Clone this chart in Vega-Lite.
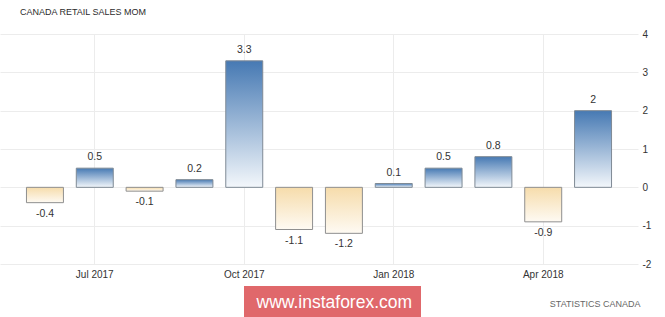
{
  "$schema": "https://vega.github.io/schema/vega-lite/v6.json",
  "width": 638,
  "height": 230,
  "autosize": {"type": "none"},
  "padding": {"left": 0, "top": 34, "right": 27, "bottom": 53},
  "background": "white",
  "title": {
    "text": "CANADA RETAIL SALES MOM",
    "anchor": "start",
    "dx": 20,
    "offset": 8,
    "baseline": "middle",
    "font": "Liberation Sans",
    "fontSize": 9,
    "fontWeight": "normal",
    "color": "#2b2b2b"
  },
  "config": {
    "view": {"stroke": null},
    "font": "Liberation Sans"
  },
  "data": {
    "values": [
      {"month": "Jun 2017", "value": -0.4, "site": "www.instaforex.com"},
      {"month": "Jul 2017", "value": 0.5, "site": "www.instaforex.com"},
      {"month": "Aug 2017", "value": -0.1, "site": "www.instaforex.com"},
      {"month": "Sep 2017", "value": 0.2, "site": "www.instaforex.com"},
      {"month": "Oct 2017", "value": 3.3, "site": "www.instaforex.com"},
      {"month": "Nov 2017", "value": -1.1, "site": "www.instaforex.com"},
      {"month": "Dec 2017", "value": -1.2, "site": "www.instaforex.com"},
      {"month": "Jan 2018", "value": 0.1, "site": "www.instaforex.com"},
      {"month": "Feb 2018", "value": 0.5, "site": "www.instaforex.com"},
      {"month": "Mar 2018", "value": 0.8, "site": "www.instaforex.com"},
      {"month": "Apr 2018", "value": -0.9, "site": "www.instaforex.com"},
      {"month": "May 2018", "value": 2, "site": "www.instaforex.com"}
    ]
  },
  "encoding": {
    "x": {
      "field": "month",
      "type": "ordinal",
      "sort": null,
      "scale": {
        "domain": ["Jun 2017", "Jul 2017", "Aug 2017", "Sep 2017", "Oct 2017", "Nov 2017", "Dec 2017", "Jan 2018", "Feb 2018", "Mar 2018", "Apr 2018", "May 2018"],
        "paddingInner": 0.258,
        "paddingOuter": 0.531
      },
      "axis": {
        "values": ["Jul 2017", "Oct 2017", "Jan 2018", "Apr 2018"],
        "labelAngle": 0,
        "labelFontSize": 10,
        "labelColor": "#333333",
        "labelPadding": 5,
        "ticks": false,
        "domain": false,
        "grid": true,
        "gridColor": "#ececec",
        "title": "STATISTICS CANADA",
        "titleFontSize": 9,
        "titleFontWeight": "normal",
        "titleColor": "#666666",
        "titleAlign": "right",
        "titleBaseline": "middle",
        "titleX": 640,
        "titleY": 39
      }
    },
    "y": {
      "field": "value",
      "type": "quantitative",
      "scale": {"domain": [-2, 4], "nice": false},
      "axis": {
        "orient": "right",
        "values": [-2, -1, 0, 1, 2, 3, 4],
        "labelExpr": "'' + datum.value",
        "ticks": false,
        "domain": false,
        "labelPadding": 4,
        "labelFontSize": 10,
        "labelColor": "#333333",
        "gridColor": "#ececec",
        "title": null
      }
    }
  },
  "layer": [
    {
      "transform": [{"filter": "datum.value >= 0"}],
      "mark": {
        "type": "bar",
        "stroke": "#7f8a95",
        "strokeWidth": 1,
        "fill": {
          "gradient": "linear",
          "x1": 0, "y1": 0, "x2": 0, "y2": 1,
          "stops": [
            {"offset": 0, "color": "#4679b3"},
            {"offset": 1, "color": "#f3f7fb"}
          ]
        }
      },
      "encoding": {}
    },
    {
      "transform": [{"filter": "datum.value < 0"}],
      "mark": {
        "type": "bar",
        "stroke": "#8f8f8f",
        "strokeWidth": 1,
        "fill": {
          "gradient": "linear",
          "x1": 0, "y1": 0, "x2": 0, "y2": 1,
          "stops": [
            {"offset": 0, "color": "#f6dcab"},
            {"offset": 1, "color": "#fefaf3"}
          ]
        }
      },
      "encoding": {}
    },
    {
      "transform": [{"filter": "datum.value >= 0"}],
      "mark": {"type": "text", "baseline": "bottom", "dy": -6, "fontSize": 10.5},
      "encoding": {
        "text": {"field": "value", "type": "nominal"},
        "color": {
          "field": "site",
          "type": "nominal",
          "scale": {"range": ["#333333"]},
          "legend": {
            "orient": "none",
            "legendX": 244,
            "legendY": 252,
            "title": null,
            "fillColor": "#e0686b",
            "padding": 8,
            "symbolSize": 0,
            "symbolOpacity": 0,
            "symbolStrokeWidth": 0,
            "labelOffset": -13,
            "labelColor": "white",
            "labelFontSize": 17.5,
            "labelFont": "Liberation Sans",
            "labelLimit": 300
          }
        }
      }
    },
    {
      "transform": [{"filter": "datum.value < 0"}],
      "mark": {"type": "text", "baseline": "top", "dy": 6, "fontSize": 10.5, "color": "#333333"},
      "encoding": {
        "text": {"field": "value", "type": "nominal"}
      }
    }
  ]
}
